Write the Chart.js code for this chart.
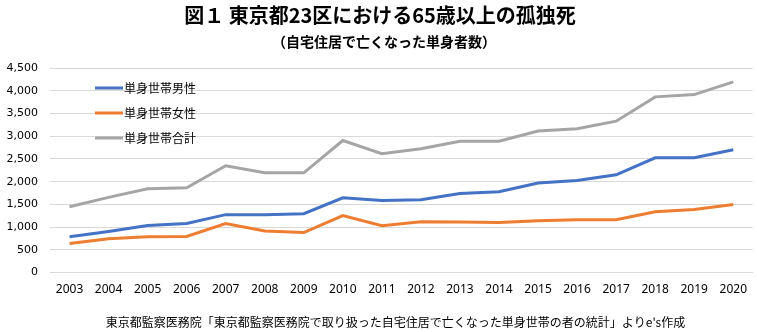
<!DOCTYPE html>
<html>
<head>
<meta charset="utf-8">
<script src="https://cdn.jsdelivr.net/npm/chart.js@4"></script>
<style>
  html, body { margin: 0; padding: 0; background: #fff; }
  #wrap { width: 757px; height: 332px; position: relative; }
</style>
</head>
<body>
<div id="wrap"><canvas id="chart"></canvas></div>
<script>
// data
const years = ['2003','2004','2005','2006','2007','2008','2009','2010','2011','2012','2013','2014','2015','2016','2017','2018','2019','2020'];
const maleSingle = [790, 905, 1035, 1080, 1275, 1275, 1295, 1645, 1585, 1600, 1740, 1780, 1970, 2025, 2150, 2525, 2525, 2700];
const femaleSingle = [640, 745, 790, 795, 1080, 915, 880, 1255, 1030, 1120, 1115, 1100, 1140, 1165, 1165, 1340, 1390, 1500];
const totalSingle = [1450, 1655, 1845, 1865, 2350, 2195, 2195, 2905, 2615, 2725, 2890, 2890, 3115, 3165, 3330, 3865, 3915, 4195];
const seriesNames = ['単身世帯男性', '単身世帯女性', '単身世帯合計'];

const JP = '"Noto Sans CJK JP", "Noto Sans", sans-serif';

// Title, subtitle, source note and the in-plot legend
const decorations = {
  id: 'decorations',
  afterDraw(chart) {
    const ctx = chart.ctx;
    ctx.save();
    ctx.fillStyle = '#000';
    ctx.textAlign = 'center';
    ctx.textBaseline = 'middle';
    ctx.font = 'bold 20px ' + JP;
    ctx.fillText('図１ 東京都23区における65歳以上の孤独死', 380, 15);
    ctx.font = 'bold 14px ' + JP;
    ctx.fillText('（自宅住居で亡くなった単身者数）', 384, 42);
    ctx.font = '12px ' + JP;
    ctx.fillText('東京都監察医務院「東京都監察医務院で取り扱った自宅住居で亡くなった単身世帯の者の統計」よりe\'s作成', 395.5, 322);

    // legend
    ctx.textAlign = 'left';
    ctx.font = '12px ' + JP;
    chart.data.datasets.forEach((ds, i) => {
      const y = 88 + i * 25;
      ctx.strokeStyle = ds.borderColor;
      ctx.lineWidth = 3;
      ctx.beginPath();
      ctx.moveTo(95, y);
      ctx.lineTo(123, y);
      ctx.stroke();
      ctx.fillStyle = '#000';
      ctx.fillText(ds.label, 124, y);
    });
    ctx.restore();
  }
};

new Chart(document.getElementById('chart'), {
  type: 'line',
  data: {
    labels: years,
    datasets: [
      { label: seriesNames[0], data: maleSingle, borderColor: '#4472C4' },
      { label: seriesNames[1], data: femaleSingle, borderColor: '#ED7D31' },
      { label: seriesNames[2], data: totalSingle, borderColor: '#A5A5A5' }
    ].map(d => Object.assign(d, { borderWidth: 3, pointRadius: 0, tension: 0, fill: false }))
  },
  options: {
    responsive: true,
    maintainAspectRatio: false,
    animation: false,
    layout: { padding: { top: 68, right: 0, bottom: 25, left: 0 } },
    plugins: {
      legend: { display: false },
      tooltip: { enabled: false }
    },
    scales: {
      x: {
        offset: true,
        grid: { display: false, drawTicks: false },
        border: { display: true, color: '#D9D9D9' },
        ticks: { color: '#000', font: { family: '"Noto Sans", sans-serif', size: 12 }, maxRotation: 0, autoSkip: false, padding: 10 }
      },
      y: {
        min: 0,
        max: 4500,
        afterFit: s => { s.width = 50; },
        ticks: {
          stepSize: 500,
          color: '#000',
          font: { family: '"DejaVu Sans", sans-serif', size: 11 },
          padding: 12,
          callback: v => v.toLocaleString('en-US')
        },
        grid: { color: '#D9D9D9', drawTicks: false },
        border: { display: false }
      }
    }
  },
  plugins: [decorations]
});
</script>
</body>
</html>
